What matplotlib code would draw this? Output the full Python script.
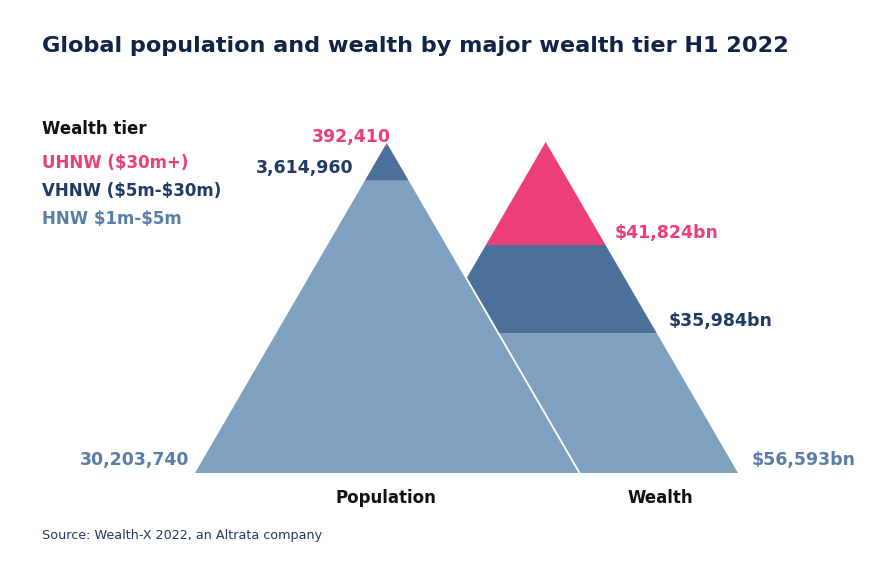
import matplotlib.pyplot as plt
from matplotlib.patches import Polygon

# data
tiers = ['UHNW ($30m+)', 'VHNW ($5m-$30m)', 'HNW $1m-$5m']
population = [392410, 3614960, 30203740]
wealth = [41824, 35984, 56593]
pop_labels = ['392,410', '3,614,960', '30,203,740']
wealth_labels = ['$41,824bn', '$35,984bn', '$56,593bn']

colors = ['#EC3E7A', '#4C7099', '#7FA1C0']
label_colors = ['#EC3E7A', '#1F3A64', '#5A7EA8']
navy = '#0F2447'

plt.rcParams['text.parse_math'] = False

W, H = 882, 583
fig = plt.figure(figsize=(W / 100, H / 100), dpi=100)

def px(x, y):
    return x / W, 1 - y / H

# axes: x in half-widths, y = share of total from apex (0) to base (1)
ax = fig.add_axes([195 / W, 1 - 473 / H, 543 / W, 331 / H])
ax.set_xlim(-1, 1.824)
ax.set_ylim(1, 0)
ax.axis('off')

centers = [0.0, 0.824]


def draw_pyramid(values, c, z, edge=False):
    total = sum(values)
    f0 = 0.0
    bounds = []
    for i, (v, col) in enumerate(zip(values, colors)):
        f1 = f0 + v / total
        poly = Polygon([(c - f0, f0), (c + f0, f0), (c + f1, f1), (c - f1, f1)],
                       closed=True, facecolor=col, edgecolor='none', zorder=z + i * 0.01)
        ax.add_patch(poly)
        bounds.append(f1)
        f0 = f1
    if edge:
        ax.plot([c, c + 1], [0, 1], color='white', lw=1.3, zorder=z + 1)
    return bounds


wb = draw_pyramid(wealth, centers[1], 1)
pb = draw_pyramid(population, centers[0], 3, edge=True)

# population labels (left side)
ax.text(0.02, -0.015, pop_labels[0], color=label_colors[0], fontsize=12.5,
        fontweight='bold', ha='right', va='center', clip_on=False)
ax.text(-0.176, 0.079, pop_labels[1], color=label_colors[1], fontsize=12.5,
        fontweight='bold', ha='right', va='center', clip_on=False)
ax.text(-1.03, 0.96, pop_labels[2], color=label_colors[2], fontsize=12.5,
        fontweight='bold', ha='right', va='center', clip_on=False)

# wealth labels (right side)
for b, lab, col, off in zip(wb, wealth_labels, label_colors, [0.046, 0.06, 0.07]):
    yy = b - 0.037 if b < 0.99 else 0.96
    ax.text(centers[1] + b + off, yy, lab, color=col, fontsize=12.5,
            fontweight='bold', ha='left', va='center', clip_on=False)

# title, legend, axis names, source
fig.text(*px(42, 46), 'Global population and wealth by major wealth tier H1 2022',
         fontsize=16.1, fontweight='bold', color=navy, ha='left', va='center')
fig.text(*px(42, 129), 'Wealth tier', fontsize=12, fontweight='bold',
         color='#111111', ha='left', va='center')
for i, (t, col) in enumerate(zip(tiers, label_colors)):
    fig.text(*px(42, 163 + i * 28), t, fontsize=12, fontweight='bold',
             color=col, ha='left', va='center')

fig.text(*px(386, 498), 'Population', fontsize=12, fontweight='bold',
         color='#111111', ha='center', va='center')
fig.text(*px(660, 498), 'Wealth', fontsize=12, fontweight='bold',
         color='#111111', ha='center', va='center')
fig.text(*px(42, 535), 'Source: Wealth-X 2022, an Altrata company', fontsize=9.2,
         color='#1F3A64', ha='left', va='center')

fig.savefig('out.png', dpi=100)
